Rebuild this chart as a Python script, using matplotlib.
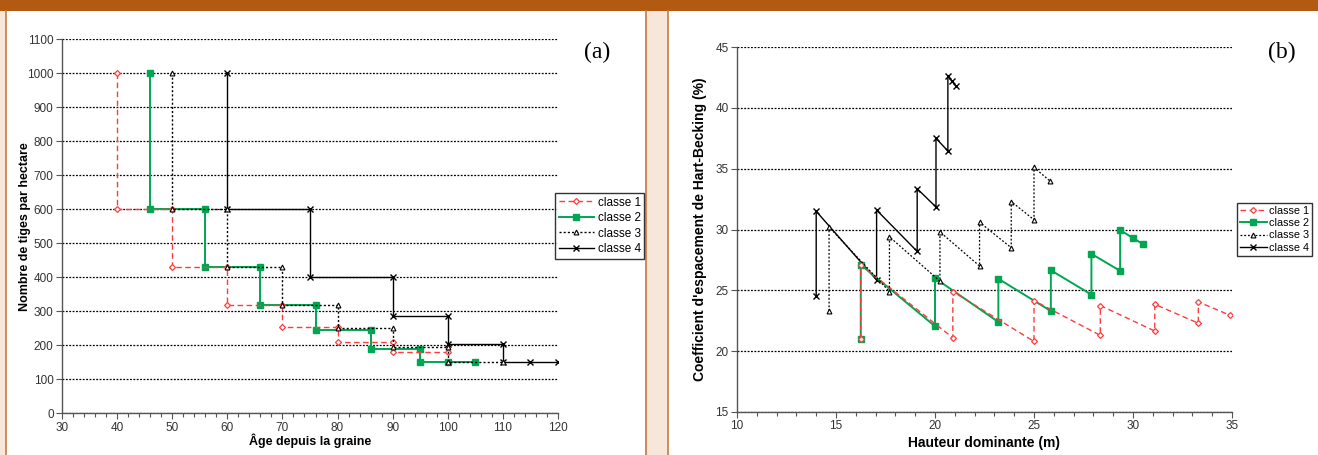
import matplotlib
matplotlib.use("Agg")
from matplotlib import pyplot as plt
from matplotlib.patches import Rectangle
from matplotlib.lines import Line2D

plt.rcParams['font.family'] = ['Liberation Sans', 'DejaVu Sans']

# panel (a): stems per hectare vs age (step curves, corners only)
age_c1 = [40, 40, 50, 50, 60, 60, 70, 70, 80, 80, 90, 90, 100]
n_c1 = [1000, 600, 600, 430, 430, 320, 320, 255, 255, 210, 210, 180, 180]
age_c2 = [46, 46, 56, 56, 66, 66, 76, 76, 86, 86, 95, 95, 100, 105]
n_c2 = [1000, 600, 600, 430, 430, 320, 320, 245, 245, 190, 190, 150, 150, 150]
age_c3 = [50, 50, 60, 60, 70, 70, 80, 80, 90, 90, 100, 100, 110]
n_c3 = [1000, 600, 600, 430, 430, 320, 320, 250, 250, 195, 195, 150, 150]
age_c4 = [60, 60, 75, 75, 90, 90, 100, 100, 110, 110, 115, 120]
n_c4 = [1000, 600, 600, 400, 400, 285, 285, 205, 205, 150, 150, 150]

# panel (b): Hart-Becking spacing vs dominant height
h_c1 = [16.25, 16.25, 20.9, 20.9, 25.0, 25.0, 28.35, 28.35, 31.1, 31.1, 33.3, 33.3, 34.9]
s_c1 = [21.0, 27.1, 21.1, 24.9, 20.8, 24.15, 21.3, 23.75, 21.65, 23.85, 22.3, 24.05, 22.95]
h_c2 = [16.25, 16.25, 20.0, 20.0, 23.2, 23.2, 25.85, 25.85, 27.9, 27.9, 29.35, 29.35, 30.0, 30.5]
s_c2 = [21.0, 27.1, 22.05, 26.0, 22.4, 25.95, 23.3, 26.65, 24.65, 28.0, 26.6, 29.95, 29.3, 28.8]
h_c3 = [14.65, 14.65, 17.7, 17.7, 20.25, 20.25, 22.25, 22.25, 23.85, 23.85, 25.0, 25.0, 25.8]
s_c3 = [23.3, 30.2, 24.9, 29.4, 25.75, 29.8, 27.0, 30.6, 28.5, 32.3, 30.8, 35.1, 34.0]
h_c4 = [14.0, 14.0, 17.05, 17.05, 19.1, 19.1, 20.05, 20.05, 20.65, 20.65, 20.85, 21.05]
s_c4 = [24.5, 31.5, 25.85, 31.6, 28.2, 33.35, 31.85, 37.5, 36.45, 42.6, 42.2, 41.8]

labels = ['classe 1', 'classe 2', 'classe 3', 'classe 4']

W, H = 1318, 455
fig = plt.figure(figsize=(W / 100, H / 100), dpi=100, facecolor='#f7e6d9')
orange = '#b35a12'

# background frame
fig.patches.append(Rectangle((6 / W, 0), 639 / W, 444 / H, transform=fig.transFigure,
                             facecolor='white', edgecolor='none', zorder=-10))
fig.patches.append(Rectangle((668 / W, 0), 650 / W, 444 / H, transform=fig.transFigure,
                             facecolor='white', edgecolor='none', zorder=-10))
fig.patches.append(Rectangle((0, 1 - 11 / H), 1, 11 / H, transform=fig.transFigure,
                             facecolor=orange, edgecolor='none', zorder=-5))
for xp in [5.5, 645.5, 667.5]:
    fig.lines.append(Line2D([xp / W, xp / W], [0, 1 - 11 / H], transform=fig.transFigure,
                            color='#c77b3c', lw=1.2, zorder=-4))


def style_axes(ax, fs):
    for s in ['top', 'right']:
        ax.spines[s].set_visible(False)
    for s in ['left', 'bottom']:
        ax.spines[s].set_color('#555555')
        ax.spines[s].set_linewidth(1.0)
    ax.yaxis.grid(True, color='black', linestyle=(0, (1.5, 1.2)), linewidth=0.9)
    ax.set_axisbelow(True)
    ax.tick_params(axis='both', which='major', direction='out', length=4, width=0.8,
                   color='#555555', labelsize=fs, labelcolor='#333333', pad=2)
    ax.tick_params(axis='x', which='minor', direction='out', length=3, width=0.8, color='#555555')
    ax.set_facecolor('none')


red = '#ff3b3b'
green = '#00a651'

# ---- panel (a)
ax1 = fig.add_axes([62 / W, 1 - 413.3 / H, 496 / W, 374 / H])
ax1.plot(age_c1, n_c1, color=red, ls=(0, (4, 2.5)), lw=1.0, marker='D', ms=3,
         mfc='white', mec=red, mew=0.9, label=labels[0], zorder=3)
ax1.plot(age_c2, n_c2, color=green, ls='-', lw=1.4, marker='s', ms=4.5,
         mfc=green, mec=green, label=labels[1], zorder=2)
ax1.plot(age_c3, n_c3, color='black', ls=(0, (1.5, 1.5)), lw=1.0, marker='^', ms=3.5,
         mfc='white', mec='black', mew=0.8, label=labels[2], zorder=4)
ax1.plot(age_c4, n_c4, color='black', ls='-', lw=1.0, marker='x', ms=4,
         mec='black', mew=1.0, label=labels[3], zorder=1)
ax1.set_xlim(30, 120)
ax1.set_ylim(0, 1100)
ax1.set_xticks(range(30, 121, 10))
ax1.set_xticks(range(30, 121, 2), minor=True)
ax1.set_yticks(range(0, 1101, 100))
style_axes(ax1, 8.5)
ax1.set_xlabel('Âge depuis la graine', fontsize=9, fontweight='bold')
ax1.set_ylabel('Nombre de tiges par hectare', fontsize=9, fontweight='bold')
ax1.xaxis.set_label_coords(0.5, -0.055)
ax1.yaxis.set_label_coords(-0.063, 0.5)
ax1.text(597 / W, 1 - 52 / H, '(a)', transform=fig.transFigure, fontsize=17,
         family='Liberation Serif', ha='center', va='center')
leg1 = ax1.legend(loc='upper left', bbox_to_anchor=(555 / W, 1 - 193 / H),
                  bbox_transform=fig.transFigure, fontsize=8.5, frameon=True, fancybox=False,
                  handlelength=3.0, handletextpad=0.3, borderpad=0.3, labelspacing=0.3,
                  borderaxespad=0)
leg1.get_frame().set_edgecolor('black')
leg1.get_frame().set_linewidth(1.0)

# ---- panel (b)
ax2 = fig.add_axes([737 / W, 1 - 412 / H, 495 / W, 365 / H])
ax2.plot(h_c1, s_c1, color=red, ls=(0, (4, 2.5)), lw=1.0, marker='D', ms=3,
         mfc='white', mec=red, mew=0.9, label=labels[0], zorder=3)
ax2.plot(h_c2, s_c2, color=green, ls='-', lw=1.4, marker='s', ms=4.5,
         mfc=green, mec=green, label=labels[1], zorder=2)
ax2.plot(h_c3, s_c3, color='black', ls=(0, (1.5, 1.5)), lw=0.9, marker='^', ms=3.5,
         mfc='white', mec='black', mew=0.8, label=labels[2], zorder=4)
ax2.plot(h_c4, s_c4, color='black', ls='-', lw=1.0, marker='x', ms=4,
         mec='black', mew=1.0, label=labels[3], zorder=1)
ax2.set_xlim(10, 35)
ax2.set_ylim(15, 45)
ax2.set_xticks(range(10, 36, 5))
ax2.set_xticks(range(10, 36, 1), minor=True)
ax2.set_yticks(range(15, 46, 5))
style_axes(ax2, 8.5)
ax2.set_xlabel('Hauteur dominante (m)', fontsize=10, fontweight='bold')
ax2.set_ylabel("Coefficient d'espacement de Hart-Becking (%)", fontsize=10, fontweight='bold')
ax2.xaxis.set_label_coords(0.5, -0.066)
ax2.yaxis.set_label_coords(-0.06, 0.5)
ax2.text(1282 / W, 1 - 52 / H, '(b)', transform=fig.transFigure, fontsize=17,
         family='Liberation Serif', ha='center', va='center')
leg2 = ax2.legend(loc='upper left', bbox_to_anchor=(1237 / W, 1 - 203 / H),
                  bbox_transform=fig.transFigure, fontsize=7.8, frameon=True, fancybox=False,
                  handlelength=2.5, handletextpad=0.2, borderpad=0.25, labelspacing=0.22,
                  borderaxespad=0)
leg2.get_frame().set_edgecolor('black')
leg2.get_frame().set_linewidth(1.0)

fig.savefig('out.png', dpi=100, facecolor=fig.get_facecolor())
